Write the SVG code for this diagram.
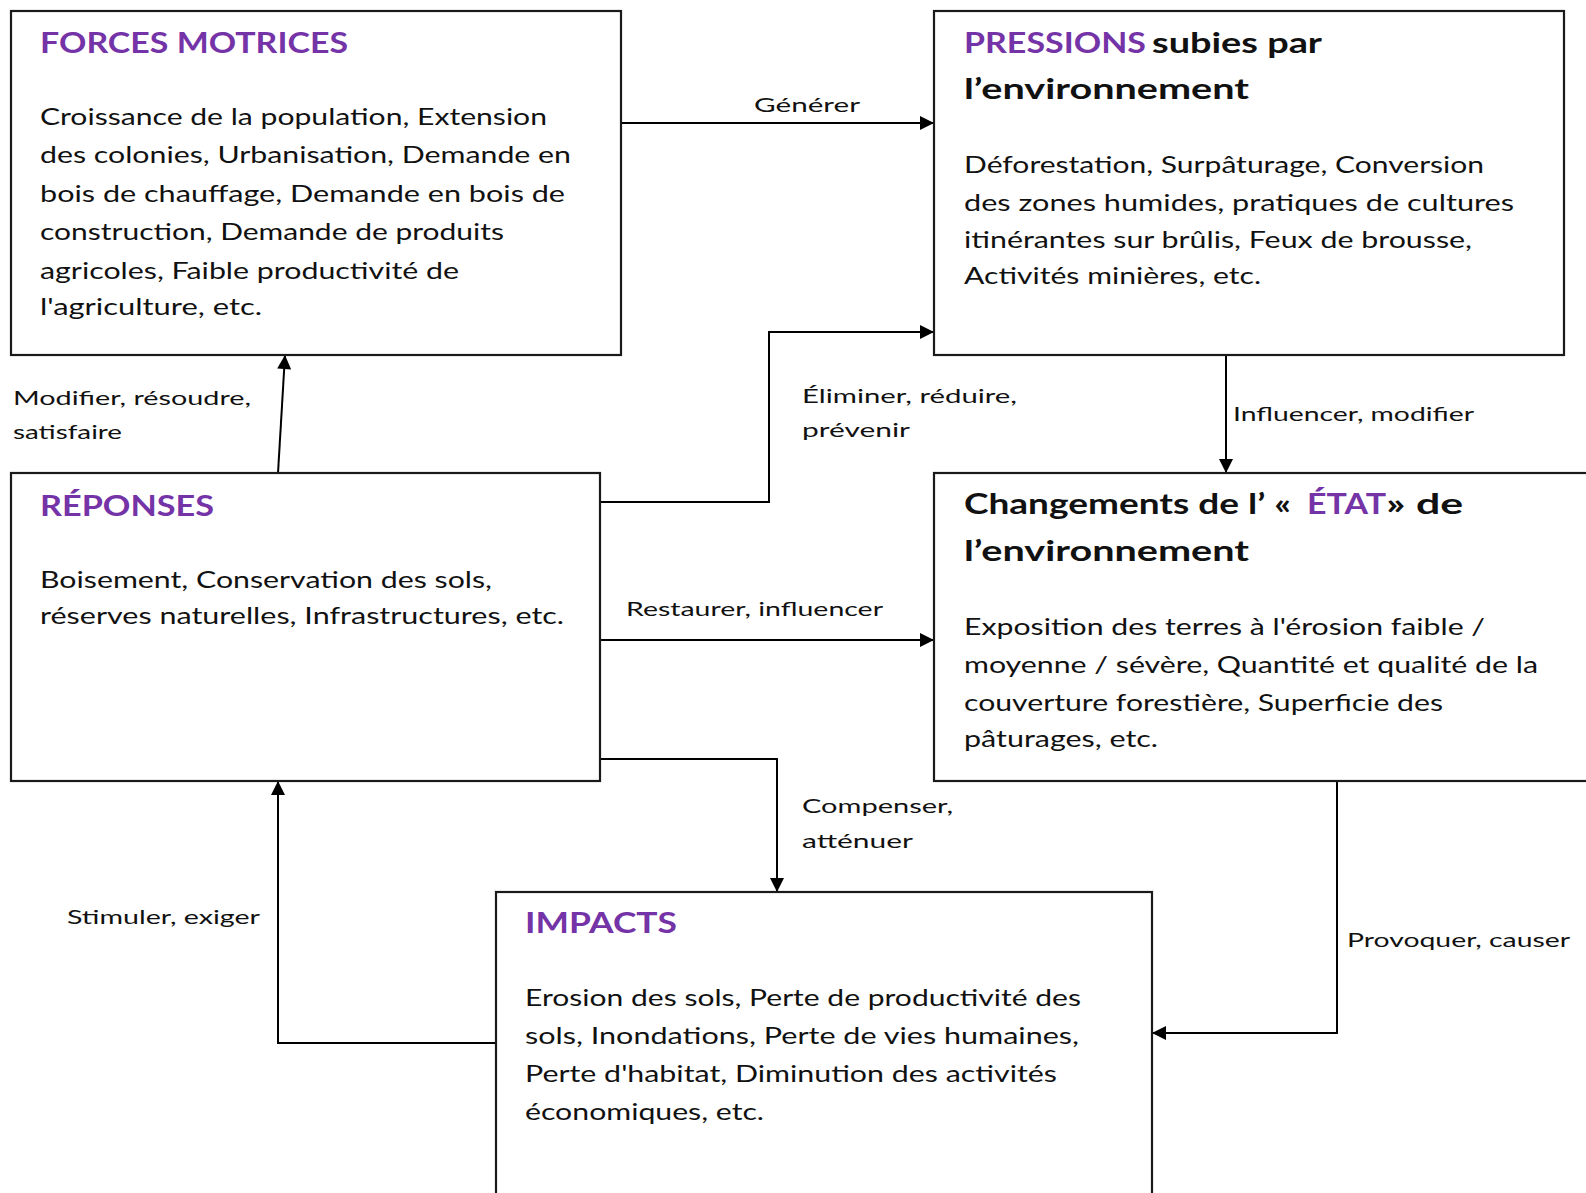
<svg xmlns="http://www.w3.org/2000/svg" width="1586" height="1193" viewBox="0 0 1586 1193">
<style>
.box{fill:#fff;stroke:#1a1a1a;stroke-width:2.2}
.ttl{font-family:Lato,"Liberation Sans",sans-serif;font-weight:bold;font-size:28px;fill:#7433a6}
.ttlb{font-family:Lato,"Liberation Sans",sans-serif;font-weight:bold;font-size:28px;fill:#111}
.body{font-family:Lato,"Liberation Sans",sans-serif;font-size:24px;fill:#111}
.lbl{font-family:Lato,"Liberation Sans",sans-serif;font-size:20px;fill:#111}
.con{fill:none;stroke:#000;stroke-width:2}
</style>
<defs>
<marker id="ah" viewBox="0 0 10 10" refX="10" refY="5" markerWidth="18" markerHeight="14" markerUnits="userSpaceOnUse" orient="auto">
<path d="M0,0 L10,5 L0,10 z" fill="#000"/>
</marker>
</defs>

<g id="connectors">
<path class="con" d="M621,123 L934,123" marker-end="url(#ah)"/>
<path class="con" d="M278,473 L285,355" marker-end="url(#ah)"/>
<path class="con" d="M600,502 L769,502 L769,332 L934,332" marker-end="url(#ah)"/>
<path class="con" d="M1226,355 L1226,473" marker-end="url(#ah)"/>
<path class="con" d="M600,640 L934,640" marker-end="url(#ah)"/>
<path class="con" d="M600,759 L777,759 L777,892" marker-end="url(#ah)"/>
<path class="con" d="M1337,781 L1337,1033 L1152,1033" marker-end="url(#ah)"/>
<path class="con" d="M496,1043 L278,1043 L278,781" marker-end="url(#ah)"/>
<text class="lbl" x="754" y="112" textLength="106" lengthAdjust="spacingAndGlyphs">Générer</text>
<text class="lbl" x="13" y="405" textLength="238" lengthAdjust="spacingAndGlyphs">Modifier, résoudre,</text>
<text class="lbl" x="13" y="439" textLength="109" lengthAdjust="spacingAndGlyphs">satisfaire</text>
<text class="lbl" x="802" y="403" textLength="215" lengthAdjust="spacingAndGlyphs">Éliminer, réduire,</text>
<text class="lbl" x="802" y="437" textLength="108" lengthAdjust="spacingAndGlyphs">prévenir</text>
<text class="lbl" x="1233" y="421" textLength="241" lengthAdjust="spacingAndGlyphs">Influencer, modifier</text>
<text class="lbl" x="626" y="616" textLength="257" lengthAdjust="spacingAndGlyphs">Restaurer, influencer</text>
<text class="lbl" x="802" y="813" textLength="151" lengthAdjust="spacingAndGlyphs">Compenser,</text>
<text class="lbl" x="802" y="848" textLength="111" lengthAdjust="spacingAndGlyphs">atténuer</text>
<text class="lbl" x="67" y="924" textLength="193" lengthAdjust="spacingAndGlyphs">Stimuler, exiger</text>
<text class="lbl" x="1347" y="947" textLength="223" lengthAdjust="spacingAndGlyphs">Provoquer, causer</text>
</g>

<g id="forces">
<rect class="box" x="11" y="11" width="610" height="344"/>
<text class="ttl" x="40" y="53" textLength="308" lengthAdjust="spacingAndGlyphs">FORCES MOTRICES</text>
<text class="body" x="40" y="125" textLength="507" lengthAdjust="spacingAndGlyphs">Croissance de la population,  Extension</text>
<text class="body" x="40" y="163" textLength="531" lengthAdjust="spacingAndGlyphs">des colonies, Urbanisation, Demande en</text>
<text class="body" x="40" y="202" textLength="525" lengthAdjust="spacingAndGlyphs">bois de chauffage, Demande en  bois de</text>
<text class="body" x="40" y="240" textLength="464" lengthAdjust="spacingAndGlyphs">construction, Demande de produits</text>
<text class="body" x="40" y="279" textLength="419" lengthAdjust="spacingAndGlyphs">agricoles, Faible productivité de</text>
<text class="body" x="40" y="315" textLength="222" lengthAdjust="spacingAndGlyphs">l'agriculture, etc.</text>
</g>

<g id="pressions">
<rect class="box" x="934" y="11" width="630" height="344"/>
<text x="964" y="53"><tspan class="ttl" textLength="182" lengthAdjust="spacingAndGlyphs">PRESSIONS</tspan><tspan class="ttlb" x="1152" textLength="170" lengthAdjust="spacingAndGlyphs">subies par</tspan></text>
<text class="ttlb" x="964" y="99" textLength="285" lengthAdjust="spacingAndGlyphs">l’environnement</text>
<text class="body" x="964" y="173" textLength="520" lengthAdjust="spacingAndGlyphs">Déforestation, Surpâturage, Conversion</text>
<text class="body" x="964" y="211" textLength="550" lengthAdjust="spacingAndGlyphs">des zones humides, pratiques de  cultures</text>
<text class="body" x="964" y="248" textLength="508" lengthAdjust="spacingAndGlyphs">itinérantes sur brûlis, Feux de brousse,</text>
<text class="body" x="964" y="284" textLength="297" lengthAdjust="spacingAndGlyphs">Activités minières, etc.</text>
</g>

<g id="reponses">
<rect class="box" x="11" y="473" width="589" height="308"/>
<text class="ttl" x="40" y="516" textLength="174" lengthAdjust="spacingAndGlyphs">RÉPONSES</text>
<text class="body" x="40" y="588" textLength="452" lengthAdjust="spacingAndGlyphs">Boisement, Conservation des sols,</text>
<text class="body" x="40" y="624" textLength="524" lengthAdjust="spacingAndGlyphs">réserves naturelles, Infrastructures, etc.</text>
</g>

<g id="etat">
<rect class="box" x="934" y="473" width="660" height="308"/>
<text x="964" y="514"><tspan class="ttlb" textLength="336" lengthAdjust="spacingAndGlyphs">Changements de l’ « </tspan><tspan class="ttl" x="1307" textLength="79" lengthAdjust="spacingAndGlyphs">ÉTAT</tspan><tspan class="ttlb" x="1386" textLength="77" lengthAdjust="spacingAndGlyphs">» de</tspan></text>
<text class="ttlb" x="964" y="561" textLength="285" lengthAdjust="spacingAndGlyphs">l’environnement</text>
<text class="body" x="964" y="635" textLength="521" lengthAdjust="spacingAndGlyphs">Exposition des terres à l'érosion faible /</text>
<text class="body" x="964" y="673" textLength="574" lengthAdjust="spacingAndGlyphs">moyenne / sévère, Quantité et qualité de la</text>
<text class="body" x="964" y="711" textLength="479" lengthAdjust="spacingAndGlyphs">couverture  forestière, Superficie des</text>
<text class="body" x="964" y="747" textLength="194" lengthAdjust="spacingAndGlyphs">pâturages, etc.</text>
</g>

<g id="impacts">
<rect class="box" x="496" y="892" width="656" height="320"/>
<text class="ttl" x="525" y="933" textLength="152" lengthAdjust="spacingAndGlyphs">IMPACTS</text>
<text class="body" x="525" y="1006" textLength="556" lengthAdjust="spacingAndGlyphs">Erosion des sols, Perte de productivité des</text>
<text class="body" x="525" y="1044" textLength="554" lengthAdjust="spacingAndGlyphs">sols, Inondations, Perte de vies humaines,</text>
<text class="body" x="525" y="1082" textLength="532" lengthAdjust="spacingAndGlyphs">Perte d'habitat, Diminution des activités</text>
<text class="body" x="525" y="1120" textLength="239" lengthAdjust="spacingAndGlyphs">économiques, etc.</text>
</g>
</svg>
